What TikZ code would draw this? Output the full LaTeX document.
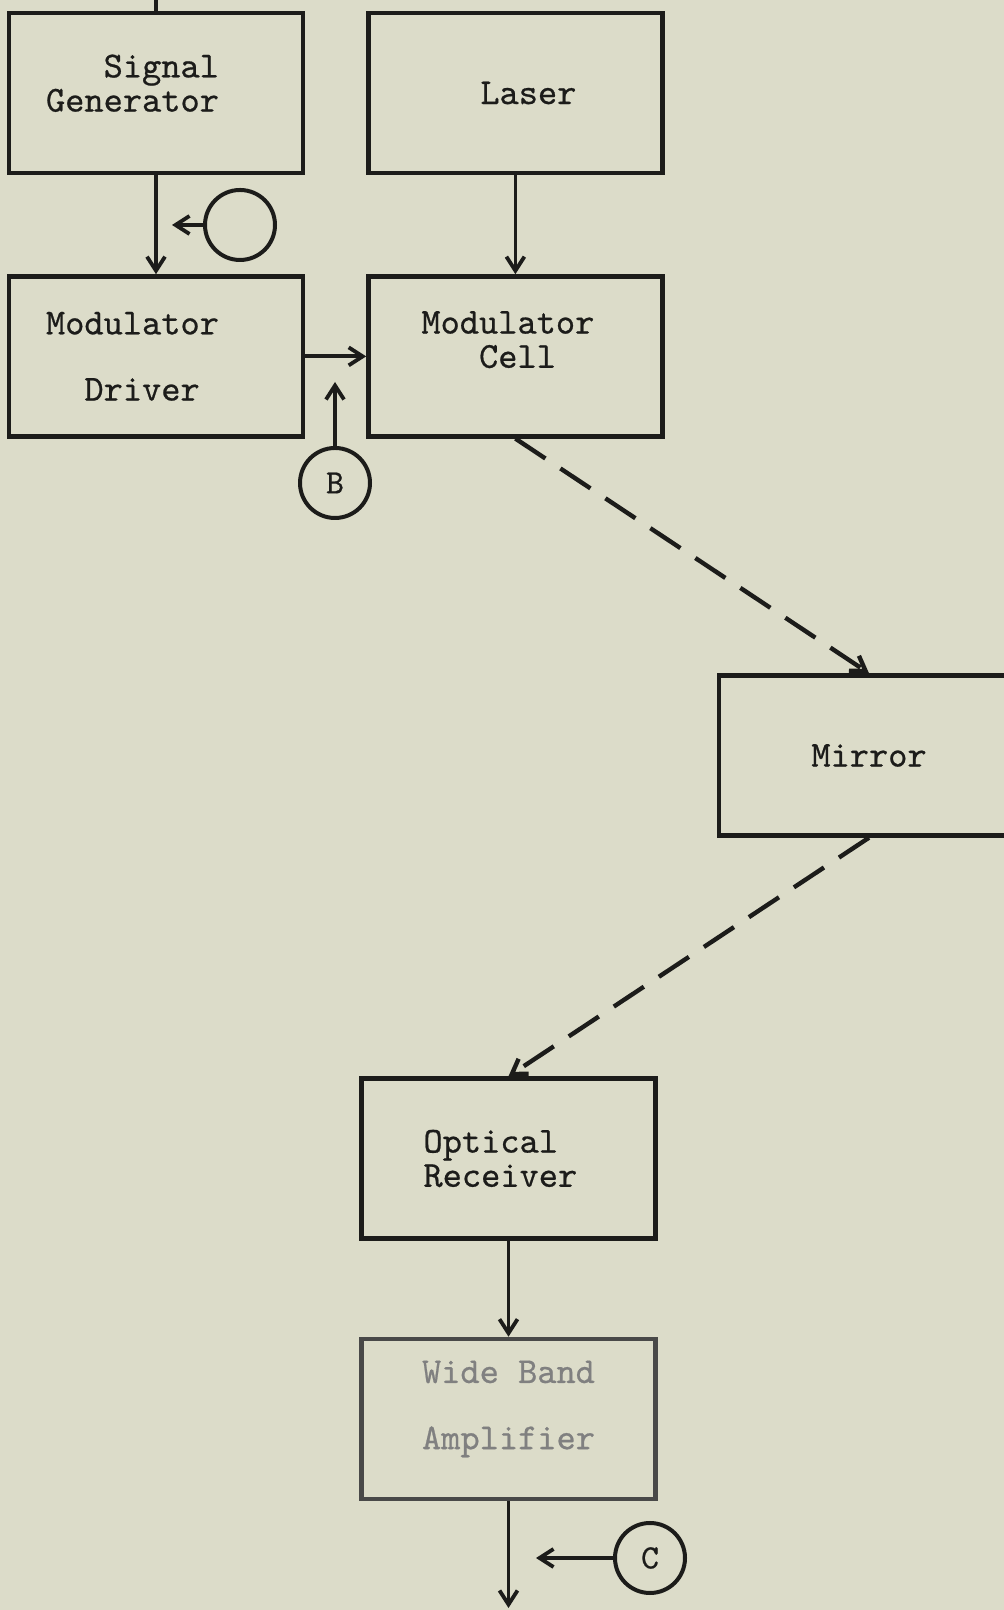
\documentclass[tikz,border=0pt]{standalone}
\usepackage{fontspec}
\usepackage{xcolor}
\usetikzlibrary{arrows.meta,positioning}
\newfontfamily\typewriter[FakeBold=0.6]{lmmono10-regular.otf}
\definecolor{paper}{HTML}{DCDCC9}
\definecolor{ink}{HTML}{1C1C1A}

\begin{document}
\begin{tikzpicture}[
  x=1pt,y=1pt,
  font=\typewriter\fontsize{18.3}{17.1}\selectfont,
  every node/.style={align=center},
  block/.style={draw=ink,text=ink,line width=2.2pt,minimum width=147pt,
                minimum height=80pt,inner sep=0pt},
  port/.style={draw=ink,text=ink,circle,line width=2pt,minimum size=35pt,
               inner sep=0pt,font=\typewriter\fontsize{17}{17}\selectfont},
  arr/.style={-{Straight Barb[length=7pt,width=9pt]},line width=1.9pt,draw=ink},
  beam/.style={arr,line width=2.2pt,dash pattern=on 18pt off 9pt}
]
\useasboundingbox (0,0) rectangle (502,805);
\fill[paper] (0,0) rectangle (502,805);
\clip (0,0) rectangle (502,805);
% --- top rows: sources and modulator ---
\node[block,align=left,text width=110pt,text depth=27pt] (sg) at (78,758.5)
  {\phantom{Gen}Signal\\Generator};
\node[block,right=30.5pt of sg,align=right,text width=61pt] (laser) {Laser};
\node[block,below=49.5pt of sg,align=left,text width=110pt] (md)
  {Modulator\\[16pt]\phantom{Mo}Driver};
\node[block,right=30.5pt of md,align=left,text width=94pt,text depth=34pt] (mc)
  {Modulator\\\phantom{Mod}Cell};
% --- optical path and receiver ---
\node[block,minimum width=150pt] (mirror) at (434.5,427.25) {Mirror};
\node[block,align=left,text width=85pt] (or) at (254.25,225.75) {Optical\\Receiver};
\node[block,below=48pt of or,draw=ink!80,text=black!50,text depth=14pt] (wba)
  {Wide Band\\[16pt]Amplifier};
% --- test points ---
\node[port] (tpa) at (120,692.5) {};
\node[port] (tpb) at (167.5,563.5) {B};
\node[port] (tpc) at (325,26) {C};
\coordinate (tpaend) at (86,692.5);
\coordinate (tpbend) at (167.5,614);
\coordinate (tpcend) at (268,26);
\coordinate (top) at (78,812);
\coordinate (bottom) at (254.25,1);
% --- connectors ---
\draw[line width=1.9pt,ink] (top) -- (sg.north);
\foreach \a/\b in {sg/md,laser/mc,md/mc,or/wba,wba/bottom,tpa/tpaend,tpb/tpbend,tpc/tpcend}
  \draw[arr] (\a) -- (\b);
\draw[beam] (mc.south) -- (mirror.north);
\draw[beam] (mirror.south) -- (or.north);
\end{tikzpicture}
\end{document}
